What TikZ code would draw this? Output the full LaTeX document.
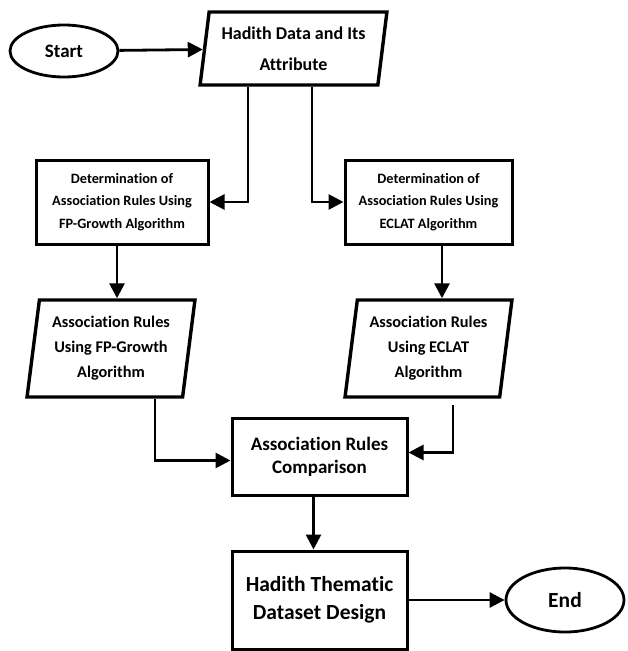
\documentclass[tikz,border=0pt]{standalone}
\usepackage{fontspec}
\setmainfont{Carlito}[Ligatures=NoCommon]
\usetikzlibrary{shapes.geometric,arrows.meta}
\tikzset{
  flowline/.style={line width=2.8pt,-{Triangle[length=15pt,width=15pt]}},
  procbox/.style={draw,line width=3pt,align=center,inner sep=0pt},
  iobox/.style={draw,line width=3.4pt,align=center,inner sep=0pt,trapezium,
    trapezium stretches=true,trapezium left angle=81,trapezium right angle=99},
  termbox/.style={draw,line width=2.8pt,ellipse,inner sep=0pt}
}
\begin{document}
\begin{tikzpicture}
\begin{scope}[x=1pt,y=-1pt,font=\bfseries]
\useasboundingbox (0,0) rectangle (627,651);
% terminals
\node [termbox,minimum width=108pt,minimum height=52pt,
  font=\bfseries\fontsize{19}{22}\selectfont] (start) at (64,51) {Start};
\node [termbox,minimum width=118pt,minimum height=64pt,
  font=\bfseries\fontsize{21.5}{24}\selectfont] (end) at (565,600) {End};
% data
\node [iobox,minimum width=187pt,minimum height=73pt,trapezium left angle=80,
  trapezium right angle=100,font=\bfseries\fontsize{18}{31}\selectfont]
  (hadith) at (293.5,48.5) {Hadith Data and Its\\Attribute};
\node [iobox,minimum width=168pt,minimum height=97pt,
  font=\bfseries\fontsize{16.3}{25}\selectfont]
  (rulesfp) at (111,348.5) {Association Rules\\Using FP-Growth\\Algorithm};
\node [iobox,minimum width=167pt,minimum height=97pt,
  font=\bfseries\fontsize{16.3}{25}\selectfont]
  (ruleseclat) at (428.5,348.5) {Association Rules\\Using ECLAT\\Algorithm};
% processes
\node [procbox,minimum width=172pt,minimum height=84pt,
  font=\bfseries\fontsize{14.3}{22.5}\selectfont]
  (detfp) at (122,202) {Determination of\\Association Rules Using\\FP-Growth Algorithm};
\node [procbox,minimum width=167pt,minimum height=84pt,
  font=\bfseries\fontsize{14.3}{22.5}\selectfont]
  (deteclat) at (428.5,202) {Determination of\\Association Rules Using\\ECLAT Algorithm};
\node [procbox,minimum width=175pt,minimum height=77pt,
  font=\bfseries\fontsize{19}{23}\selectfont]
  (compare) at (319.5,456.5) {Association Rules\\Comparison};
\node [procbox,minimum width=175pt,minimum height=98pt,
  font=\bfseries\fontsize{21.5}{28}\selectfont]
  (thematic) at (319.5,600) {Hadith Thematic\\Dataset Design};
% connectors
\draw [flowline] (start) -- (hadith);
\draw [flowline] ([xshift=-45.5pt]hadith.south) |- (detfp.east);
\draw [flowline] ([xshift=18.5pt]hadith.south) |- (deteclat.west);
\draw [flowline] ([xshift=-5pt]detfp.south) -- ([xshift=-5pt]detfp.south |- rulesfp.north);
\draw [flowline] ([xshift=13.5pt]deteclat.south) -- ([xshift=13.5pt]deteclat.south |- ruleseclat.north);
\draw [flowline] ([xshift=44pt]rulesfp.south) |- ([yshift=-4pt]compare.west);
\draw [flowline] ([xshift=24.5pt,yshift=-6pt]ruleseclat.south) |- ([yshift=4pt]compare.east);
\draw [flowline] ([xshift=-6pt]compare.south) -- ([xshift=-6pt]thematic.north);
\draw [flowline] (thematic) -- (end);
\end{scope}
\end{tikzpicture}
\end{document}
